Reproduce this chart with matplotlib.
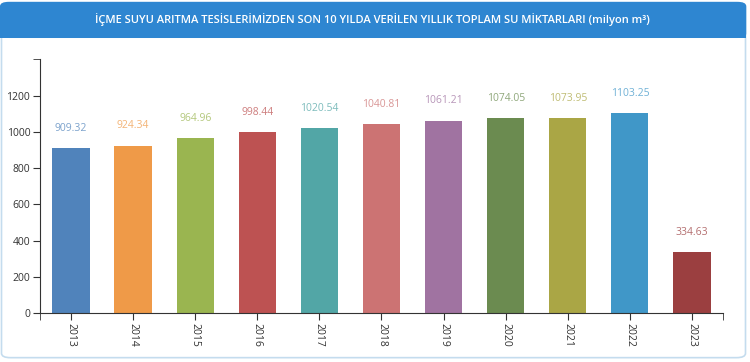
import matplotlib.pyplot as plt
from matplotlib.patches import FancyBboxPatch, Rectangle

years = ['2013', '2014', '2015', '2016', '2017', '2018', '2019', '2020', '2021', '2022', '2023']
values = [909.32, 924.34, 964.96, 998.44, 1020.54, 1040.81, 1061.21, 1074.05, 1073.95, 1103.25, 334.63]
colors = ['#5083bb', '#ef9a48', '#9ab550', '#bd5252', '#52a6a6', '#cc7373',
          '#a073a1', '#6b8b50', '#aaa645', '#4097c8', '#9b3f40']

plt.rcParams['font.family'] = ['Open Sans', 'DejaVu Sans']

fig = plt.figure(figsize=(7.5, 3.62), dpi=100)

# panel border + header band (kept behind the axes)
panel = FancyBboxPatch((0.002, 0.012), 0.992, 0.98, boxstyle='round,pad=0,rounding_size=0.012',
                       transform=fig.transFigure, facecolor='white', edgecolor='#c4dcee', lw=1.2, zorder=-10)
fig.patches.append(panel)
header = FancyBboxPatch((0.0, 0.895), 0.995, 0.1, boxstyle='round,pad=0,rounding_size=0.012',
                        transform=fig.transFigure, facecolor='#2e86d1', edgecolor='none', zorder=-9)
fig.patches.append(header)
fig.patches.append(Rectangle((0.0, 0.895), 0.995, 0.03, transform=fig.transFigure,
                             facecolor='#2e86d1', edgecolor='none', zorder=-9))
fig.text(0.496, 0.945, 'İÇME SUYU ARITMA TESİSLERİMİZDEN SON 10 YILDA VERİLEN YILLIK TOPLAM SU MİKTARLARI (milyon m³)',
         ha='center', va='center', color='white', fontsize=8, fontweight='semibold')

ax = fig.add_axes([0.0533, 0.1354, 0.9107, 0.7006])
ax.set_zorder(5)
x = range(len(years))
ax.bar(x, values, width=0.6, color=colors)
for i, v in enumerate(values):
    ax.text(i, v + 80, f'{v:.2f}', ha='center', va='bottom', color=colors[i], alpha=0.75, fontsize=7.5)

ax.set_xlim(-0.5, len(years) - 0.5)
ax.set_ylim(0, 1400)
ax.set_yticks([0, 200, 400, 600, 800, 1000, 1200])
ax.set_yticks([1400], minor=True)
ax.set_xticks(list(x))
ax.set_xticks([-0.5, len(years) - 0.5], minor=True)
ax.set_xticklabels(years, rotation=-90)
for s in ['top', 'right']:
    ax.spines[s].set_visible(False)
for s in ['left', 'bottom']:
    ax.spines[s].set_color('#333333')
ax.tick_params(which='both', length=5, color='#333333', labelsize=7.5, labelcolor='#333333', pad=2)
ax.set_facecolor('none')

fig.savefig('out.png', dpi=100)
